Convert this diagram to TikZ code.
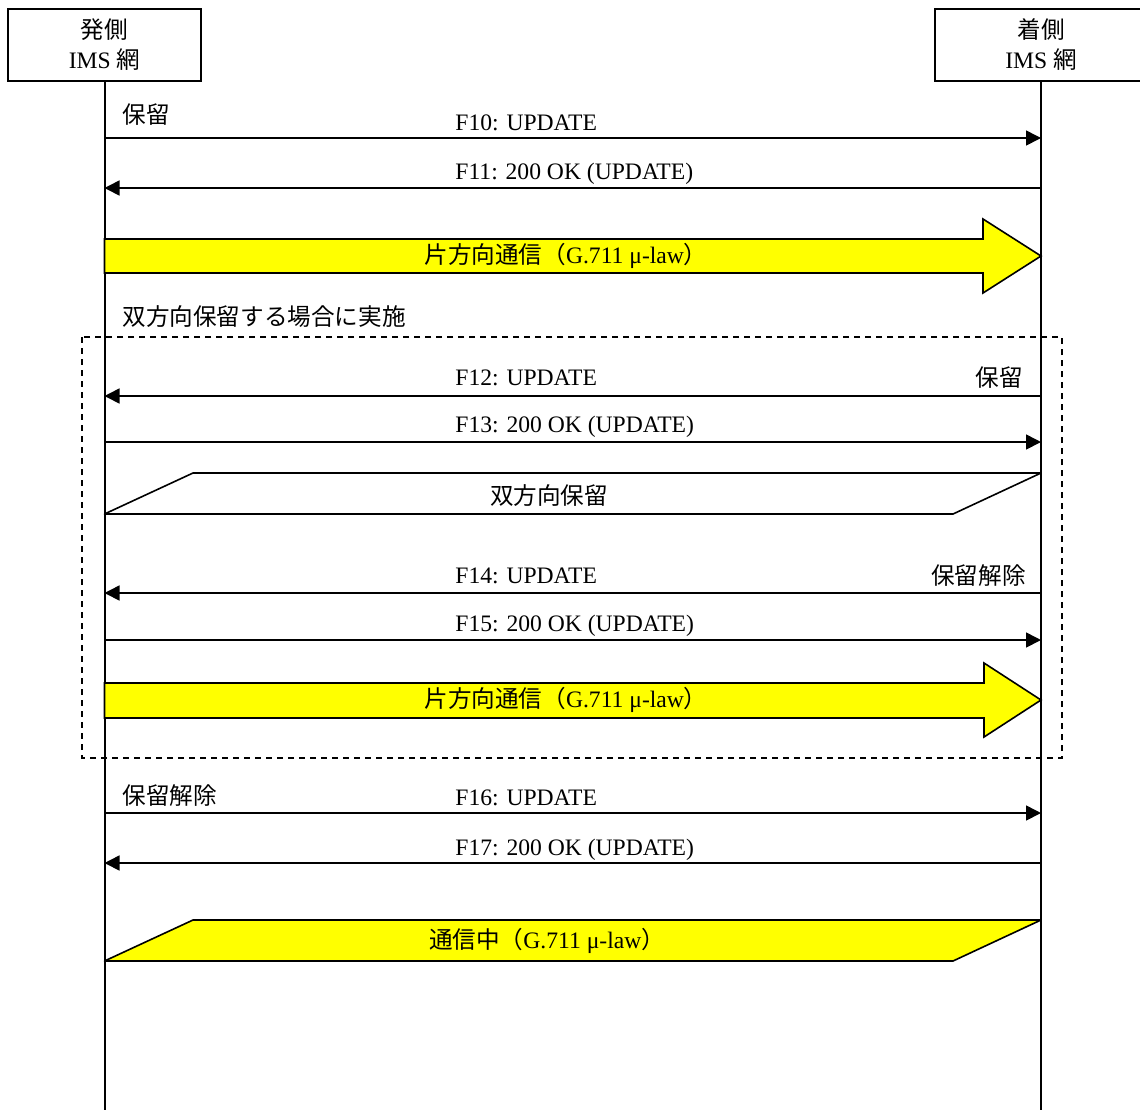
\documentclass[tikz,border=0pt]{standalone}
\usepackage{fontspec}
\setmainfont{Liberation Serif}
\newfontfamily\jp{Noto Sans CJK JP}
\usetikzlibrary{arrows.meta,positioning}
\definecolor{hold}{HTML}{FFFF00}

\begin{document}
\begin{tikzpicture}[x=0.5pt, y=-0.5pt, >={Triangle[length=7.5pt,width=7.5pt]},
  font=\fontsize{11.8}{15}\selectfont,
  net/.style={draw, line width=1pt, minimum width=96.5pt, minimum height=36pt, align=center, inner sep=0pt},
  life/.style={line width=1pt},
  msg/.style={->, line width=0.8pt},
  lbl/.style={inner sep=0pt},
  fat/.style={draw, line width=0.8pt, fill=hold, line join=miter},
  band/.style={draw, line width=0.8pt, line join=round},
  optbox/.style={draw, dash pattern=on 3pt off 2.5pt, line width=0.7pt}]
\useasboundingbox (0,0) rectangle (1140,1110);
% networks and lifelines
\node[net] (orig) at (104.5,45) {{\jp 発側}\\IMS {\jp 網}};
\node[net, minimum width=106pt] (term) at (1041,45) {{\jp 着側}\\IMS {\jp 網}};
\coordinate (end) at (0,1110);
\draw[life] (orig.south) -- (orig.south |- end);
\draw[life] (term.south) -- (term.south |- end);
\foreach \m/\y in {10/138,11/188,12/396,13/442,14/593,15/640,16/813,17/863}{
  \coordinate (a\m) at (104.5,\y);
  \coordinate (b\m) at (1041,\y);
}
% hold
\node[lbl, anchor=base west] (hold1) at (122,123) {\jp 保留};
\draw[msg] (a10) -- (b10);
\node[lbl, anchor=base west] (f10) at (455,130) {F10: UPDATE};
\draw[msg] (b11) -- (a11);
\node[lbl, anchor=base west] (f11) at (455,179) {F11: 200 OK (UPDATE)};
\draw[fat] (104.5,239) -- (983,239) -- (983,219) -- (1041,256) -- (983,293) -- (983,273) -- (104.5,273) -- cycle;
\node[lbl] (oneway1) at (566,256) {{\jp 片方向通信（}G.711 μ-law{\jp ）}};
% both-way hold (optional)
\node[lbl, anchor=base west] (opt) at (122,325) {\jp 双方向保留する場合に実施};
\draw[optbox] (82,337) rectangle (1062,758);
\draw[msg] (b12) -- (a12);
\node[lbl, anchor=base west] (f12) at (455,385) {F12: UPDATE};
\node[lbl, anchor=base east] (hold2) at (1023,386) {\jp 保留};
\draw[msg] (a13) -- (b13);
\node[lbl, anchor=base west] (f13) at (455,432) {F13: 200 OK (UPDATE)};
\draw[band] (104.5,514) -- (193,473) -- (1041,473) -- (953,514) -- cycle;
\node[lbl] (both) at (549,496) {\jp 双方向保留};
\draw[msg] (b14) -- (a14);
\node[lbl, anchor=base west] (f14) at (455,583) {F14: UPDATE};
\node[lbl, anchor=base east] (resume2) at (1026,584) {\jp 保留解除};
\draw[msg] (a15) -- (b15);
\node[lbl, anchor=base west] (f15) at (455,631) {F15: 200 OK (UPDATE)};
\draw[fat] (104.5,683) -- (984,683) -- (984,663) -- (1041,700) -- (984,737) -- (984,718) -- (104.5,718) -- cycle;
\node[lbl] (oneway2) at (566,700) {{\jp 片方向通信（}G.711 μ-law{\jp ）}};
% resume
\node[lbl, anchor=base west] (resume1) at (122,804) {\jp 保留解除};
\draw[msg] (a16) -- (b16);
\node[lbl, anchor=base west] (f16) at (455,805) {F16: UPDATE};
\draw[msg] (b17) -- (a17);
\node[lbl, anchor=base west] (f17) at (455,855) {F17: 200 OK (UPDATE)};
\draw[band, fill=hold] (104.5,961) -- (193,920) -- (1041,920) -- (953,961) -- cycle;
\node[lbl] (talk) at (547,941) {{\jp 通信中（}G.711 μ-law{\jp ）}};
\end{tikzpicture}
\end{document}
